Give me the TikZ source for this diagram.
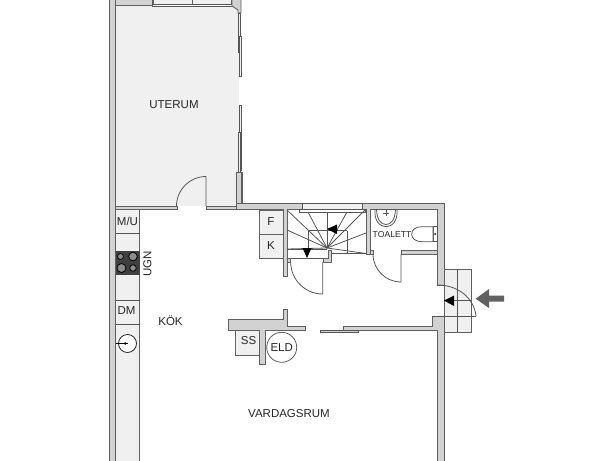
\documentclass[tikz,border=0pt]{standalone}
\usepackage{fontspec}
\setmainfont{Liberation Sans}
\definecolor{wallf}{HTML}{D2D2D2}
\definecolor{walll}{HTML}{606060}
\definecolor{floorf}{HTML}{F0F0F0}
\definecolor{thin}{HTML}{555555}
\tikzset{
 wall/.style={fill=wallf,draw=walll,line width=0.9pt},
 flr/.style={fill=floorf,draw=none},
 unit/.style={fill=floorf,draw=walll,line width=0.8pt},
 ln/.style={draw=thin,line width=0.8pt},
 lbl/.style={font=\fontsize{11.5}{13}\selectfont,text=black!85,inner sep=0pt},
}
\begin{document}
\begin{tikzpicture}[x=1pt,y=-1pt]
\useasboundingbox (0,0) rectangle (615,460);
% terrace floor
\fill[floorf] (115,5) rectangle (238.5,206);
% left wall
\path[wall] (109.5,-2) rectangle (115.5,462);
% top wall of terrace
\path[wall] (115.5,-2) rectangle (152,5);
% top window
\path[wall,fill=floorf] (153,-2) rectangle (192,4);
\path[wall,fill=floorf] (192,-2) rectangle (231,4);
\draw[ln,fill=white] (152,4) rectangle (238,6);
% top right corner
\path[wall] (231,-2) -- (241,-2) -- (241,13) -- (238,13) -- (238,10) -- (232,6) -- (232,-2) -- cycle;
% right windows
\draw[ln,fill=floorf] (238,13) rectangle (240,52);
\draw[ln,fill=floorf] (239,36) rectangle (241,76);
\draw[ln,fill=floorf] (239,105) rectangle (241,170);
\draw[ln,fill=floorf] (238,132) rectangle (240,172);
% terrace right solid wall
\path[wall] (236,172) rectangle (242,206);
% terrace bottom wall
\path[wall] (115.5,206) rectangle (177,209);
\path[wall] (206,206) rectangle (236,209);
% door terrace
\draw[ln] (206,206) -- (206,176.5) arc[start angle=-90,end angle=-180,radius=29.5];
% main upper wall
\path[wall] (236,203.5) -- (444,203.5) -- (444,285) -- (437.7,285) -- (437.7,209.5) -- (370.5,209.5) -- (370.5,254) -- (366,254) -- (366,209.5) -- (287,209.5) -- (287,276.5) -- (283,276.5) -- (283,209.5) -- (236,209.5) -- cycle;
\fill[wallf] (237,204) rectangle (241.5,209);
\draw[walll,line width=0.9pt] (241.5,172) -- (241.5,203.5);
% stair window
\draw[ln,fill=floorf] (302,203.5) rectangle (362,209);
\draw[ln,fill=white] (299.5,209) rectangle (365,212);
% toilet lower wall
\path[wall] (401,250) rectangle (437.7,254);
\draw[ln] (401,254) -- (401,282) arc[start angle=90,end angle=180,radius=28] -- (373,254);
\path[wall] (370.5,250) rectangle (373.5,254);
% steps outside
\path[unit] (444,269) rectangle (471,332);
\draw[ln] (457,269) -- (457,332);
\draw[ln] (444,316) -- (471,316);
% right wall lower
\path[wall] (437.7,316) -- (444,316) -- (444,462) -- (437.7,462) -- (437.7,330.5) -- (343,330.5) -- (343,326.7) -- (432,326.7) -- (432,316) -- cycle;
\draw[ln,fill=wallf] (320.5,330.5) rectangle (358,332.5);
% entrance door
\draw[ln] (437.7,285) .. controls (458,285) and (474,298) .. (476,316);
\draw[ln] (432,316) -- (476,316);
\fill[black] (444,300.6) -- (454,295.5) -- (454,306) -- cycle;
\draw[ln] (454,300.6) -- (471,300.6);
% big arrow
\fill[black!62] (475.7,298.7) -- (489,289) -- (489,295.5) -- (504,295.5) -- (504,301.5) -- (489,301.5) -- (489,308) -- cycle;
% F K
\path[unit] (259,210) rectangle (283,234);
\path[unit] (259,234) rectangle (283,258);
% stairs
\coordinate (fan) at (327,248);
\foreach \e in {(287,210),(308,212),(327,212),(347,212),(365,210),(287,230),(287,249),(366,233),(366,253.5)} {\draw[ln] (fan) -- \e;}
\draw[ln] (308,230.7) -- (347,230.7);
\draw[ln] (308,230.7) -- (308,249);
\draw[ln] (347,230.7) -- (347,253.5);
\draw[ln] (287,249) -- (327,249);
\draw[ln] (331,253.5) -- (366,253.5);
\draw[ln] (287,258.5) -- (323,258.5);
\fill[black] (327,229) -- (337,224.5) -- (337,234) -- cycle;
\fill[black] (307,258) -- (302.5,248) -- (311.5,248) -- cycle;
% stair small walls and door
\path[wall] (323,258.5) -- (328,258.5) -- (328,250) -- (331,250) -- (331,262) -- (323,262) -- cycle;
\path[wall] (287,258.5) rectangle (290,262);
\draw[ln] (322.7,262) -- (322.7,294) arc[start angle=90,end angle=180,radius=32] ;
% counter
\path[unit] (115.5,209) rectangle (139.5,462);
\draw[ln] (115.5,233) -- (139.5,233);
\draw[ln] (115.5,300) -- (139.5,300);
\draw[ln] (115.5,324) -- (139.5,324);
\fill[black!75] (115.5,251) rectangle (139.5,275);
\draw[black,fill=black!45,line width=0.8pt] (120.5,256.5) circle[radius=3];
\draw[black,fill=black!45,line width=0.8pt] (133,256.5) circle[radius=4.3];
\draw[black,fill=black!45,line width=0.8pt] (121.5,268) circle[radius=4.5];
\draw[black,fill=black!45,line width=0.8pt] (133,268) circle[radius=3.3];
\draw[black!85,line width=0.8pt,fill=white] (127.5,343.5) circle[radius=9];
\draw[black,line width=0.7pt] (116,343.5) -- (127.5,343.5);
\fill[black] (125.2,343.5) circle[radius=1.4];
% centre wall
\path[wall] (228.3,319) -- (283.3,319) -- (283.3,309.3) -- (287.3,309.3) -- (287.3,326) -- (305,326) -- (305,330.7) -- (265,330.7) -- (265,364) -- (259.5,364) -- (259.5,330.7) -- (228.3,330.7) -- cycle;
\path[unit] (235.3,330.7) rectangle (259.5,355);
\draw[walll,line width=0.8pt,fill=white] (281.7,347.3) circle[radius=15];
% toilet fixtures
\draw[ln,fill=white] (375,209.5) -- (397,209.5) .. controls (398,221) and (392,226.7) .. (386,226.7) .. controls (380,226.7) and (374,221) .. (375,209.5) -- cycle;
\draw[ln] (376.5,209.5) .. controls (377,220) and (381,224.5) .. (386,224.5) .. controls (391,224.5) and (395,220) .. (395.5,209.5);
\draw[ln] (386,210) -- (386,216);
\draw[ln] (383,213) -- (389,213);
\draw[ln,fill=white] (433,226.7) rectangle (437.7,241.7);
\draw[ln,fill=white] (433,226.7) -- (422,226.7) .. controls (415,226.7) and (411.7,230) .. (411.7,234.2) .. controls (411.7,238) and (415,241.7) .. (422,241.7) -- (433,241.7) -- cycle;
\fill[black] (435.2,234) circle[radius=1];
% labels
\node[lbl] (uterum) at (174,104.5) {UTERUM};
\node[lbl] (mu) at (127.5,221.5) {M/U};
\node[lbl,rotate=90] (ugn) at (147.5,264) {UGN};
\node[lbl] (dm) at (126.5,311) {DM};
\node[lbl] (kok) at (170.5,320.5) {KÖK};
\node[lbl] (f) at (271,221.5) {F};
\node[lbl] (k) at (271,245.5) {K};
\node[lbl] (ss) at (248.5,340.5) {SS};
\node[lbl] (eld) at (281.7,347.5) {ELD};
\node[lbl] (vard) at (289,413.5) {VARDAGSRUM};
\node[font=\fontsize{8.6}{10}\selectfont,text=black!85,inner sep=0pt] (toa) at (392,235) {TOALETT};
\end{tikzpicture}
\end{document}
